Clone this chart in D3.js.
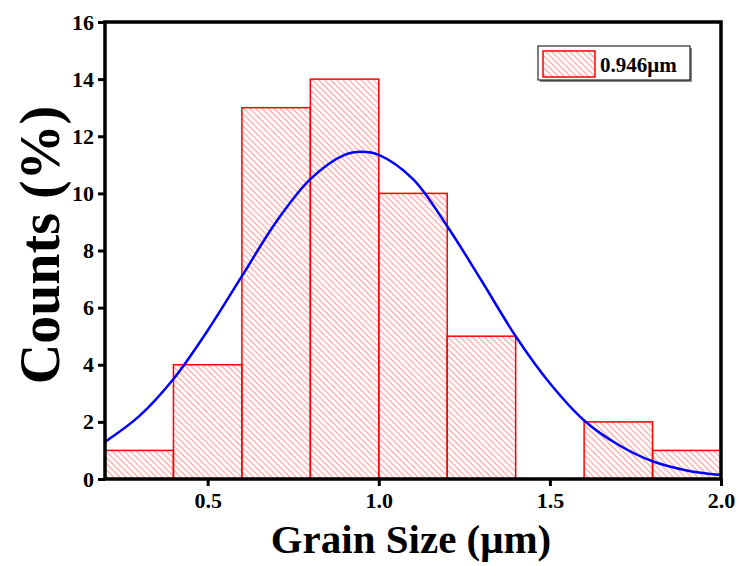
<!DOCTYPE html>
<html><head><meta charset="utf-8">
<script src="https://cdn.jsdelivr.net/npm/d3@7"></script>
<style>body{margin:0;background:#fff}svg{display:block}text{font-family:"Liberation Serif","Times New Roman",serif;font-weight:bold}</style>
</head><body>
<script>
// Histogram bins (left edges, width 0.2) and counts (%)
const binStarts = [0.2, 0.4, 0.6, 0.8, 1.0, 1.2, 1.4, 1.6, 1.8];
const binWidth = 0.2;
const counts = [1, 4, 13, 14, 10, 5, 0, 2, 1];
// Gaussian fit curve
const fitX = [0.2,0.3,0.4,0.5,0.6,0.7,0.8,0.9,0.95,1.0,1.1,1.2,1.3,1.4,1.5,1.6,1.7,1.8,1.9,2.0];
const fitY = [1.3,2.2,3.5,5.2,7.1,9.0,10.5,11.35,11.46,11.35,10.5,8.85,6.95,5.0,3.35,2.05,1.2,0.62,0.3,0.14];
const xTicks = [0.5, 1.0, 1.5, 2.0];
const yTicks = [0, 2, 4, 6, 8, 10, 12, 14, 16];
const legendLabel = "0.946\u03bcm";

const W = 739, H = 566;
const m = {left: 105, right: 721, top: 22, bottom: 479};
const svg = d3.select("body").append("svg").attr("width", W).attr("height", H);

const defs = svg.append("defs");
const pat = defs.append("pattern").attr("id", "hatch").attr("patternUnits", "userSpaceOnUse")
  .attr("width", 4.3).attr("height", 4.3).attr("patternTransform", "rotate(-45)");
pat.append("line").attr("x1", 1).attr("y1", 0).attr("x2", 1).attr("y2", 4.3)
  .attr("stroke", "#ff9090").attr("stroke-width", 1);

const x = d3.scaleLinear().domain([0.2, 2.0]).range([m.left, m.right]);
const y = d3.scaleLinear().domain([0, 16]).range([m.bottom, m.top]);

// bars
svg.append("g").selectAll("rect").data(binStarts.map((s, i) => ({s, c: counts[i]})).filter(d => d.c > 0))
  .join("rect")
  .attr("x", d => x(d.s)).attr("width", d => x(d.s + binWidth) - x(d.s))
  .attr("y", d => y(d.c)).attr("height", d => y(0) - y(d.c))
  .attr("fill", "url(#hatch)").attr("stroke", "#ff0000").attr("stroke-width", 1.5);

// fit curve
const line = d3.line().x(d => x(d[0])).y(d => y(d[1])).curve(d3.curveCatmullRom);
svg.append("path").datum(fitX.map((v, i) => [v, fitY[i]]))
  .attr("d", line).attr("fill", "none").attr("stroke", "#0000ff").attr("stroke-width", 2.5);

// frame
svg.append("rect").attr("x", m.left).attr("y", m.top).attr("width", m.right - m.left).attr("height", m.bottom - m.top)
  .attr("fill", "none").attr("stroke", "#000").attr("stroke-width", 3.5);

// axes
const xAxis = svg.append("g").attr("transform", `translate(0,${m.bottom})`)
  .call(d3.axisBottom(x).tickValues(xTicks).tickFormat(d3.format(".1f")).tickSize(7).tickPadding(6));
const yAxis = svg.append("g").attr("transform", `translate(${m.left},0)`)
  .call(d3.axisLeft(y).tickValues(yTicks).tickFormat(d3.format("d")).tickSize(7).tickPadding(4));
[xAxis, yAxis].forEach(g => {
  g.select(".domain").remove();
  g.selectAll(".tick line").attr("stroke", "#000").attr("stroke-width", 3);
  g.selectAll(".tick text").attr("fill", "#000").style("font-size", "22px")
    .style("font-family", '"Liberation Serif",serif').style("font-weight", "bold");
});

// axis titles
svg.append("text").attr("x", (m.left + m.right) / 2 - 2).attr("y", 553).attr("text-anchor", "middle")
  .style("font-size", "41px").text("Grain Size (\u03bcm)");
svg.append("text").attr("transform", `translate(59,245) rotate(-90)`).attr("text-anchor", "middle")
  .style("font-size", "56px").text("Counts (%)");

// legend
const lg = svg.append("g");
lg.append("rect").attr("x", 540).attr("y", 48).attr("width", 152).attr("height", 34).attr("fill", "#888");
lg.append("rect").attr("x", 538).attr("y", 46).attr("width", 152).attr("height", 34).attr("fill", "#fff").attr("stroke", "#000").attr("stroke-width", 1);
lg.append("rect").attr("x", 543).attr("y", 51).attr("width", 52).attr("height", 26)
  .attr("fill", "url(#hatch)").attr("stroke", "#ff0000").attr("stroke-width", 1.5);
lg.append("text").attr("x", 600).attr("y", 72).style("font-size", "21px").text(legendLabel);
</script>
</body></html>
